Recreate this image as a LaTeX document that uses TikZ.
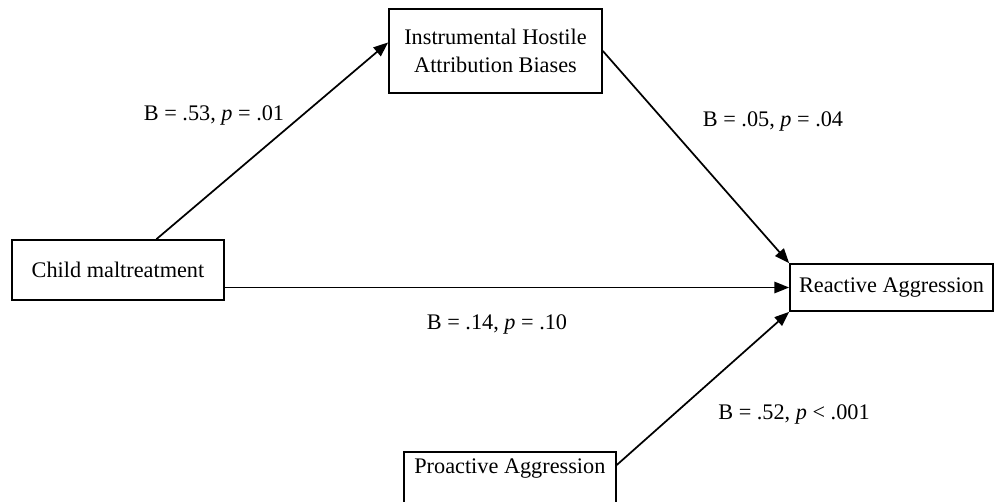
\documentclass[tikz,border=0pt]{standalone}
\usepackage{fontspec}
\setmainfont{Liberation Serif}
\usetikzlibrary{arrows.meta, calc}
\tikzset{
    box/.style={
        rectangle, draw=black, line width=1.3pt, fill=white,
        font=\fontsize{16.7}{21}\selectfont, align=center, inner sep=0pt
    },
    arrow/.style={-{Triangle[length=11pt, width=8.5pt]}, line width=1.3pt},
    coef/.style={font=\fontsize{16.7}{21}\selectfont},
}

\begin{document}
\begin{tikzpicture}[x=0.75pt, y=0.75pt]
    \useasboundingbox (0,0) rectangle (994,501);

    \node[box, minimum width=159pt, minimum height=45pt] (child) at (118, 231) {Child maltreatment};
    \node[box, minimum width=159.75pt, minimum height=63pt] (ihab) at (495.5, 450) {Instrumental Hostile\\Attribution Biases};
    \node[box, minimum width=152.25pt, minimum height=35.25pt] (react) at (891.5, 213.5) {Reactive Aggression};
    \node[box, anchor=north west, minimum width=159pt, text height=12pt, text depth=40pt, inner ysep=4.5pt] (pro) at (403, 50) {Proactive Aggression};

    \draw[arrow] ($(child.north west)!0.68!(child.north east)$) -- ($(ihab.north west)!0.4!(ihab.south west)$);
    \draw[arrow] (ihab.east) -- (react.north west);
    \draw[arrow] (child.east |- react.west) -- (react.west);
    \draw[arrow] ($(pro.north east)+(0,-14)$) -- (react.south west);

    \node[coef] (c1) at (214, 386) {B = .53, \textit{p} = .01};
    \node[coef] (c2) at (773, 380) {B = .05, \textit{p} = .04};
    \node[coef] (c3) at (497, 177) {B = .14, \textit{p} = .10};
    \node[coef] (c4) at (794, 87) {B = .52, \textit{p} < .001};
\end{tikzpicture}
\end{document}
